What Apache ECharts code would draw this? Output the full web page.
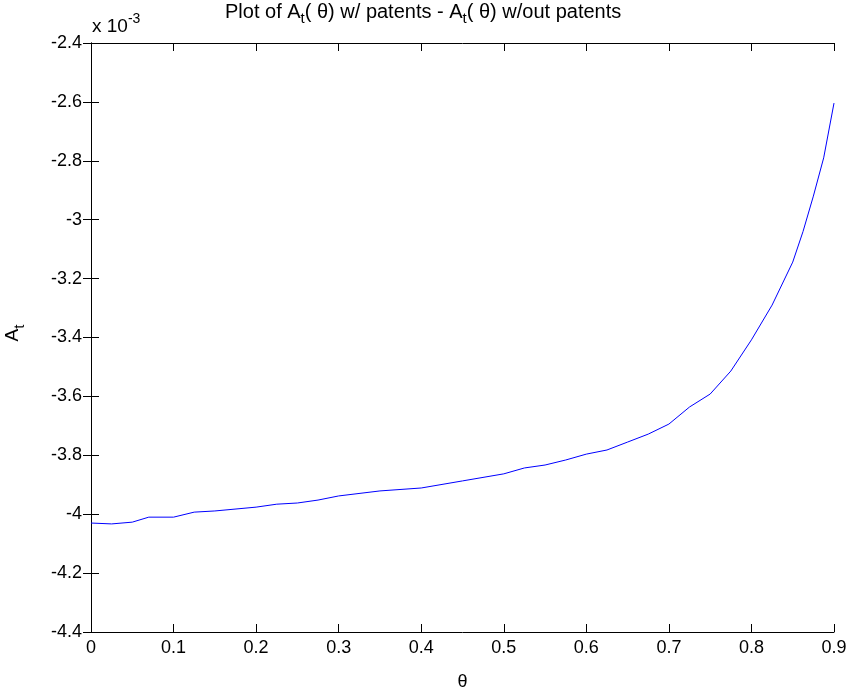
<!DOCTYPE html>
<html>
<head>
<meta charset="utf-8">
<script src="https://cdn.jsdelivr.net/npm/echarts@6/dist/echarts.min.js"></script>
<style>html,body{margin:0;padding:0;background:#fff}#c{width:851px;height:691px}</style>
</head>
<body>
<div id="c"></div>
<script>
// theta values and A_t difference (units of 1e-3)
const theta = [0, 0.025, 0.05, 0.07, 0.1, 0.125, 0.15, 0.2, 0.225, 0.25, 0.275, 0.3, 0.35, 0.4, 0.45, 0.5, 0.525, 0.55, 0.575, 0.6, 0.625, 0.65, 0.675, 0.7, 0.725, 0.75, 0.775, 0.8, 0.825, 0.85, 0.8625, 0.875, 0.8875, 0.9];
const At = [-4.030, -4.033, -4.027, -4.010, -4.010, -3.993, -3.989, -3.976, -3.966, -3.962, -3.952, -3.938, -3.921, -3.911, -3.887, -3.863, -3.843, -3.833, -3.816, -3.796, -3.782, -3.755, -3.728, -3.694, -3.636, -3.592, -3.514, -3.408, -3.290, -3.144, -3.040, -2.920, -2.790, -2.604];
const xTicks = [0, 0.1, 0.2, 0.3, 0.4, 0.5, 0.6, 0.7, 0.8, 0.9];
const yTicks = [-4.4, -4.2, -4, -3.8, -3.6, -3.4, -3.2, -3, -2.8, -2.6, -2.4];

const FONT = 'Liberation Sans, Arial, sans-serif';
const fmt = v => { const r = Math.round(v * 10) / 10; return String(r); };
const axisCommon = {
  axisLine: { lineStyle: { color: '#000', width: 1 } },
  axisTick: { inside: true, length: 8, lineStyle: { color: '#000', width: 1 } },
  splitLine: { show: false }
};
const chart = echarts.init(document.getElementById('c'), null, { renderer: 'canvas' });
chart.setOption({
  backgroundColor: '#fff',
  animation: false,
  grid: { left: 91, right: 17, top: 43, bottom: 59, containLabel: false, outerBoundsMode: 'none' },
  graphic: [
    { type: 'text', x: 225, y: 12,
      style: { text: 'Plot of A{s|t}( θ) w/ patents - A{s|t}( θ) w/out patents', fontFamily: FONT, fontSize: 20, fill: '#000',
        align: 'left', verticalAlign: 'middle',
        rich: { s: { fontFamily: FONT, fontSize: 15, padding: [14, 0, 0, 0], fill: '#000' } } } },
    { type: 'text', x: 92, y: 27,
      style: { text: 'x 10{e|-3}', fontFamily: FONT, fontSize: 19, fill: '#000', align: 'left', verticalAlign: 'middle',
        rich: { e: { fontFamily: FONT, fontSize: 14, padding: [0, 0, 15, 0] } } } },
    { type: 'text', x: 13, y: 333, rotation: Math.PI / 2,
      style: { text: 'A{s|t}', fontFamily: FONT, fontSize: 19, fill: '#000', align: 'center', verticalAlign: 'middle',
        rich: { s: { fontFamily: FONT, fontSize: 15, padding: [14, 0, 0, 0] } } } }
  ],
  xAxis: [
    Object.assign({ type: 'value', min: 0, max: 0.9, interval: 0.1, position: 'bottom',
      name: 'θ', nameLocation: 'middle', nameGap: 41,
      nameTextStyle: { fontFamily: FONT, fontSize: 18, color: '#000' },
      axisLabel: { fontFamily: FONT, fontSize: 18, color: '#000', margin: 7, formatter: fmt } }, axisCommon),
    Object.assign({ type: 'value', min: 0, max: 0.9, interval: 0.1, position: 'top',
      axisLabel: { show: false } }, axisCommon)
  ],
  yAxis: [
    Object.assign({ type: 'value', min: -4.4, max: -2.4, interval: 0.2, position: 'left',
      axisLabel: { fontFamily: FONT, fontSize: 18, color: '#000', margin: 9, formatter: fmt } }, axisCommon),
    Object.assign({ type: 'value', min: -4.4, max: -2.4, interval: 0.2, position: 'right',
      axisLabel: { show: false } }, axisCommon)
  ],
  series: [{
    type: 'line', xAxisIndex: 0, yAxisIndex: 0, showSymbol: false, symbol: 'none',
    lineStyle: { color: '#0000ff', width: 1 },
    data: theta.map((t, i) => [t, At[i]])
  }]
});
</script>
</body>
</html>
